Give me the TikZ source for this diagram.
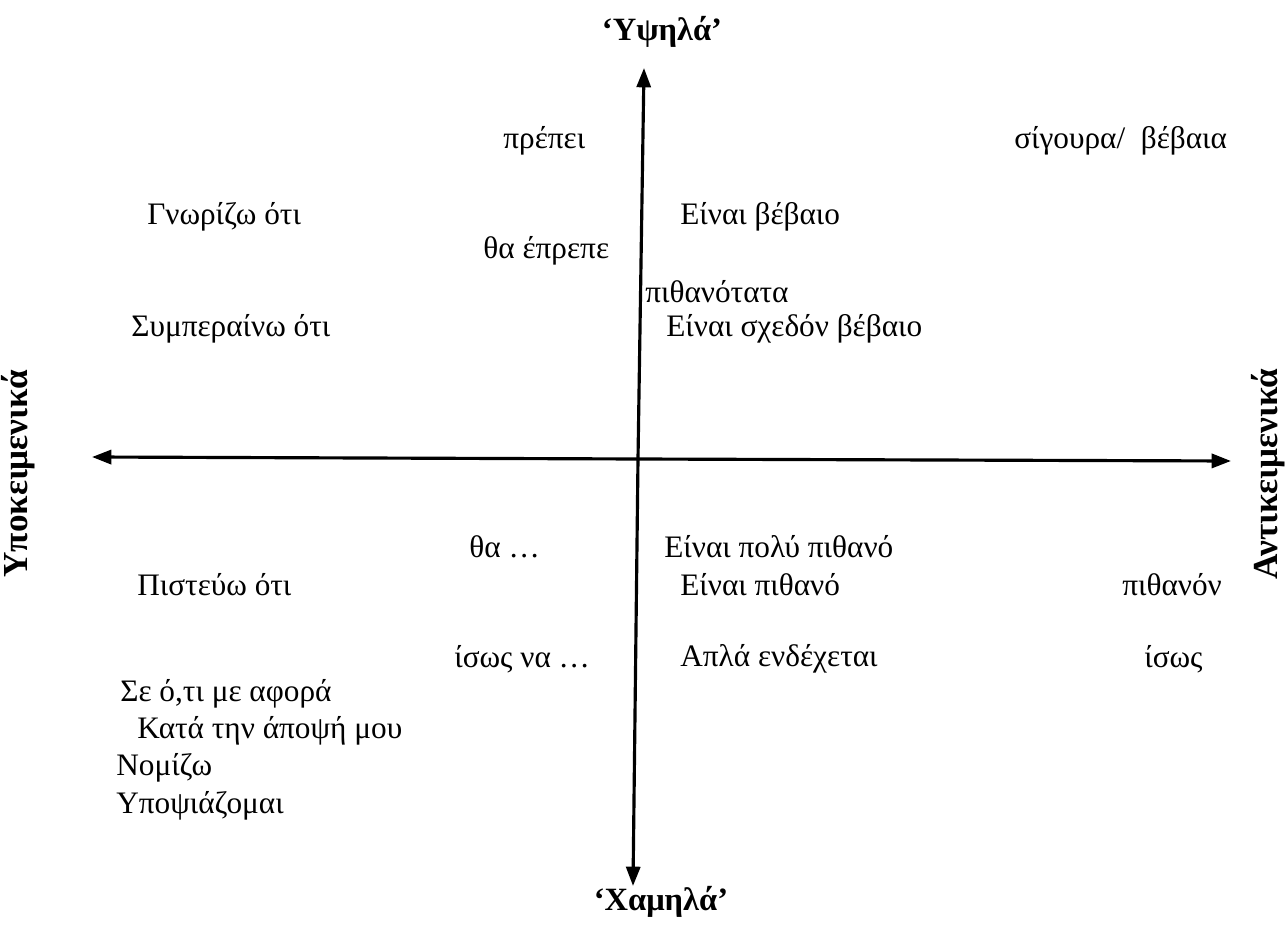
\documentclass[tikz,border=0pt]{standalone}
\usepackage{fontspec}
\setmainfont{Liberation Serif}
\usepackage{tikz}
\usetikzlibrary{arrows.meta,positioning}
\tikzstyle{axis} = [line width=1.8pt,-{Triangle[length=11pt,width=8pt]}]
\tikzstyle{term} = [anchor=west, inner sep=0pt, font=\fontsize{17.8}{20}\selectfont]
\tikzstyle{pole} = [inner sep=0pt, font=\fontsize{18.5}{21}\selectfont\bfseries]

\begin{document}
\begin{tikzpicture}[x=0.02cm, y=-0.02cm]
\useasboundingbox (0,0) rectangle (1286,929);

% Axis end points
\coordinate (centre) at (638,459);
\coordinate (nord) at (644,68);
\coordinate (sud) at (633,886);
\coordinate (ouest) at (92,457);
\coordinate (est) at (1231,461);

% Axes
\draw[axis] (centre) -- (nord);
\draw[axis] (centre) -- (sud);
\draw[axis] (centre) -- (ouest);
\draw[axis] (centre) -- (est);

% Poles
\node (high) [pole] at (662,32) {‘Υψηλά’};
\node (low) [pole] at (661,902) {‘Χαμηλά’};
\node (subj) [pole, rotate=90, font=\fontsize{20}{22}\selectfont\bfseries] at (18,474) {Υποκειμενικά};
\node (obj) [pole, rotate=90, font=\fontsize{20}{22}\selectfont\bfseries] at (1268,474) {Αντικειμενικά};

% Upper half
\node (prepei) [term] at (503,141) {πρέπει};
\node (sigoura) [term] at (1014,141) {σίγουρα/\hspace{0.25em} βέβαια};
\node (gnorizo) [term] at (147,217) {Γνωρίζω ότι};
\node (vevaio) [term] at (680,217) {Είναι βέβαιο};
\node (eprepe) [term] at (483,251) {θα έπρεπε};
\node (pithanotata) [term] at (645,292) {πιθανότατα};
\node (symperaino) [term] at (131,329) {Συμπεραίνω ότι};
\node (schedon) [term] at (666,329) {Είναι σχεδόν βέβαιο};

% Lower half
\node (tha) [term] at (469,547) {θα …};
\node (poly) [term] at (664,547) {Είναι πολύ πιθανό};
\node (pistevo) [term] at (137,585) {Πιστεύω ότι};
\node (pithano) [term] at (680,585) {Είναι πιθανό};
\node (pithanon) [term] at (1122,585) {πιθανόν};
\node (isosna) [term] at (454,659) {ίσως να …};
\node (endechetai) [term] at (680,659) {Απλά ενδέχεται};
\node (isos) [term] at (1144,659) {ίσως};

% Left list
\node (afora) [term] at (120,694) {Σε ό,τι με αφορά};
\node (apopsi) [term] at (137,731) {Κατά την άποψή μου};
\node (nomizo) [term] at (116,768) {Νομίζω};
\node (ypopsi) [term] at (116,806) {Υποψιάζομαι};
\end{tikzpicture}
\end{document}
